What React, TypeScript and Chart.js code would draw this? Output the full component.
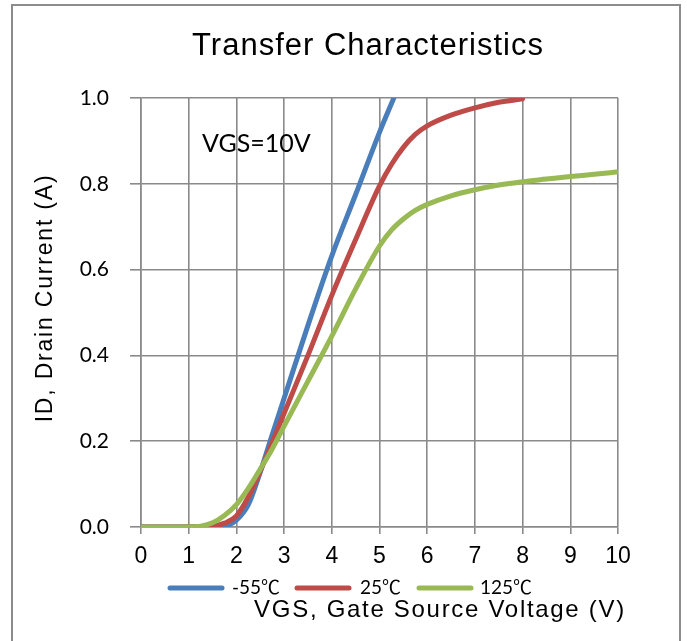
import React, { useEffect, useRef } from "react";
import { Chart, registerables } from "chart.js";

Chart.register(...registerables);

const TITLE = "Transfer Characteristics";
const X_TITLE = "VGS, Gate Source Voltage (V)";
const Y_TITLE = "ID, Drain Current (A)";
const NOTE = "VGS=10V";

const seriesNames = ["-55℃", "25℃", "125℃"];
const seriesColors = ["#4a7ebb", "#be4b48", "#98b954"];

const vgsM55 = [0, 0.5, 1, 1.5, 1.75, 2, 2.25, 2.5, 2.75, 3, 3.5, 4, 4.5, 5, 5.3];
const idM55 = [0, 0, 0, 0, 0.002, 0.016, 0.052, 0.128, 0.215, 0.3, 0.47, 0.632, 0.775, 0.92, 1.0];

const vgs25 = [0, 0.5, 1, 1.5, 1.75, 2, 2.25, 2.5, 2.75, 3, 3.5, 4, 4.5, 5, 5.25, 5.5, 5.75, 6, 6.5, 7, 7.5, 8];
const id25 = [0, 0, 0, 0.002, 0.009, 0.026, 0.07, 0.13, 0.197, 0.265, 0.4, 0.54, 0.67, 0.795, 0.845, 0.885, 0.915, 0.935, 0.96, 0.977, 0.99, 0.998];

const vgs125 = [0, 0.5, 1, 1.25, 1.5, 1.75, 2, 2.25, 2.5, 2.75, 3, 3.5, 4, 4.5, 5, 5.25, 5.5, 5.75, 6, 6.5, 7, 7.5, 8, 8.5, 9, 9.5, 10];
const id125 = [0, 0, 0, 0.002, 0.01, 0.027, 0.052, 0.09, 0.135, 0.182, 0.235, 0.34, 0.445, 0.555, 0.655, 0.692, 0.718, 0.738, 0.752, 0.772, 0.786, 0.797, 0.805, 0.811, 0.817, 0.822, 0.828];

const xTicks = [0, 1, 2, 3, 4, 5, 6, 7, 8, 9, 10];
const yTicks = [0, 0.2, 0.4, 0.6, 0.8, 1.0];

const toPoints = (xs: number[], ys: number[]) => xs.map((x, i) => ({ x, y: ys[i] }));

const W = 687;
const H = 641;
const GRID = "#8a8a8a";
const TEXT = "#000000";
const GULIM = "'Liberation Sans', 'Noto Sans CJK KR', sans-serif";
const CALIBRI = "Lato, 'Noto Sans CJK KR', sans-serif";

const decor = {
  id: "decor",
  afterDraw(chart: any) {
    const ctx = chart.ctx as any;
    ctx.save();
    // outer frame
    ctx.strokeStyle = "#8c8c8c";
    ctx.lineWidth = 2;
    ctx.strokeRect(12, 5, 668, 660);

    ctx.fillStyle = TEXT;
    ctx.textBaseline = "middle";
    ctx.textAlign = "center";
    // title
    ctx.letterSpacing = "1px";
    ctx.font = `31px ${GULIM}`;
    ctx.fillText(TITLE, 368, 46);

    // note
    ctx.letterSpacing = "0px";
    ctx.font = `25px ${CALIBRI}`;
    ctx.textAlign = "left";
    ctx.fillText(NOTE, 202, 144);

    // y title
    ctx.save();
    ctx.translate(46, 298);
    ctx.rotate(-Math.PI / 2);
    ctx.textAlign = "center";
    ctx.letterSpacing = "1.8px";
    ctx.font = `23px ${GULIM}`;
    ctx.fillText(Y_TITLE, 0, 0);
    ctx.restore();

    // legend
    const lineX = [170, 297, 419];
    const textX = [232, 360, 480];
    const ly = 588;
    ctx.lineCap = "round";
    ctx.lineWidth = 5;
    ctx.letterSpacing = "0px";
    seriesNames.forEach((name, i) => {
      ctx.strokeStyle = seriesColors[i];
      ctx.beginPath();
      ctx.moveTo(lineX[i], ly);
      ctx.lineTo(lineX[i] + 52, ly);
      ctx.stroke();
      ctx.fillStyle = TEXT;
      ctx.font = `19px ${CALIBRI}`;
      ctx.textAlign = "left";
      ctx.fillText(name, textX[i], ly);
    });

    // x title
    ctx.textAlign = "center";
    ctx.letterSpacing = "1.7px";
    ctx.font = `24px ${GULIM}`;
    ctx.fillText(X_TITLE, 440, 610);
    ctx.restore();
  },
};

export default function App() {
  const ref = useRef<HTMLCanvasElement | null>(null);
  useEffect(() => {
    if (!ref.current) return;
    const chart = new Chart(ref.current, {
      type: "line",
      data: {
        datasets: [
          { label: seriesNames[0], data: toPoints(vgsM55, idM55), borderColor: seriesColors[0], order: 3 },
          { label: seriesNames[1], data: toPoints(vgs25, id25), borderColor: seriesColors[1], order: 2 },
          { label: seriesNames[2], data: toPoints(vgs125, id125), borderColor: seriesColors[2], order: 1 },
        ].map((d) => ({
          ...d,
          borderWidth: 5,
          pointRadius: 0,
          fill: false,
          cubicInterpolationMode: "monotone" as const,
          borderCapStyle: "round" as const,
          borderJoinStyle: "round" as const,
        })),
      },
      options: {
        responsive: false,
        animation: false,
        layout: { padding: { left: 0, right: 69, top: 98, bottom: 74 } },
        plugins: {
          legend: { display: false },
          title: { display: false },
          tooltip: { enabled: false },
        },
        scales: {
          x: {
            type: "linear",
            min: 0,
            max: 10,
            afterBuildTicks: (scale: any) => {
              scale.ticks = xTicks.map((v) => ({ value: v }));
            },
            afterFit: (scale: any) => {
              scale.height = 40;
            },
            ticks: {
              color: TEXT,
              font: { family: GULIM, size: 23 },
              padding: 9,
              maxRotation: 0,
              autoSkip: false,
            },
            grid: { color: GRID, lineWidth: 1.6, tickLength: 7 },
            border: { color: GRID, width: 1.6 },
          },
          y: {
            type: "linear",
            min: 0,
            max: 1,
            afterBuildTicks: (scale: any) => {
              scale.ticks = yTicks.map((v) => ({ value: v }));
            },
            afterFit: (scale: any) => {
              scale.width = 141;
            },
            ticks: {
              color: TEXT,
              font: { family: CALIBRI, size: 21 },
              padding: 21,
              callback: (v: any) => Number(v).toFixed(1),
            },
            grid: { color: GRID, lineWidth: 1.6, tickLength: 11 },
            border: { color: GRID, width: 1.6 },
          },
        },
      },
      plugins: [decor],
    });
    return () => chart.destroy();
  }, []);
  return (
    <canvas
      ref={ref}
      width={W}
      height={H}
      style={{ position: "fixed", left: 0, top: 0, width: W, height: H, background: "#ffffff" }}
    />
  );
}
